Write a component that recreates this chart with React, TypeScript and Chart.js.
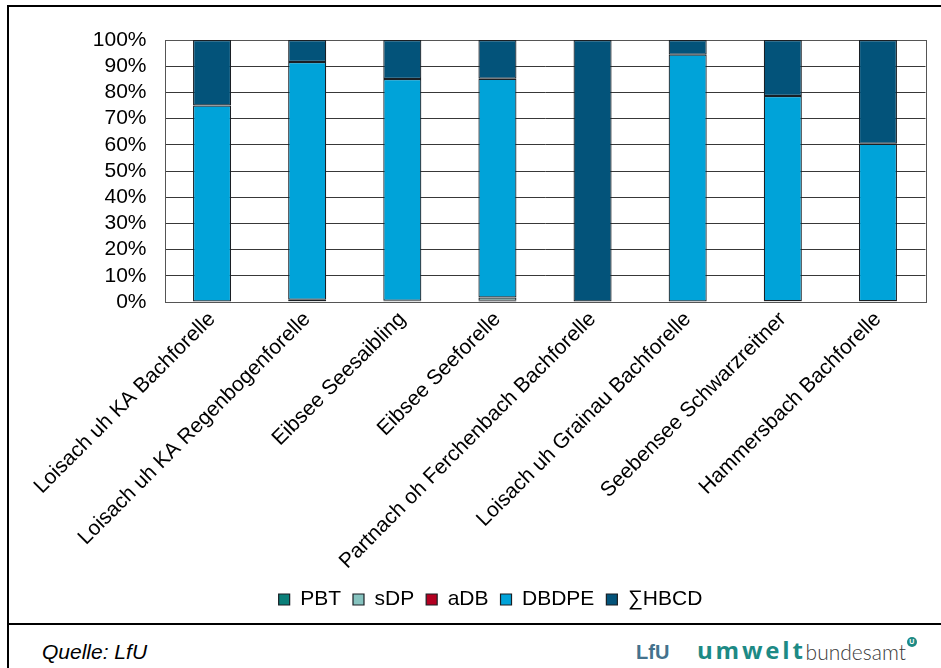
import React, { useEffect, useRef } from "react";
import { Chart, registerables } from "chart.js";

Chart.register(...registerables);

const FONT = '"Liberation Sans", Arial, Helvetica, sans-serif';

const categories = [
  "Loisach uh KA Bachforelle",
  "Loisach uh KA Regenbogenforelle",
  "Eibsee Seesaibling",
  "Eibsee Seeforelle",
  "Partnach oh Ferchenbach Bachforelle",
  "Loisach uh Grainau Bachforelle",
  "Seebensee Schwarzreitner",
  "Hammersbach Bachforelle",
];

const seriesNames = ["PBT", "sDP", "aDB", "DBDPE", "∑HBCD"];
const pbt = [0, 0.3, 0.2, 0.5, 0, 0, 0.2, 0.2];
const sdp = [0, 0, 0.1, 1.2, 0, 0, 0.1, 0.1];
const adb = [0, 0.6, 0.2, 0, 0, 0, 0, 0];
const dbdpe = [75, 90.7, 84.6, 83.5, 0, 94.4, 78.3, 60.1];
const hbcd = [25, 8.4, 14.9, 14.8, 100, 5.6, 21.4, 39.6];
const seriesColors = ["#0a7f79", "#86c3bf", "#b30021", "#00a3d9", "#03537a"];

const yTickValues = [0, 10, 20, 30, 40, 50, 60, 70, 80, 90, 100];

const plotFrame = {
  id: "plotFrame",
  beforeDatasetsDraw(chart: any) {
    const { ctx, chartArea } = chart;
    ctx.save();
    ctx.strokeStyle = "#555";
    ctx.lineWidth = 1;
    ctx.strokeRect(
      Math.round(chartArea.left) + 0.5,
      Math.round(chartArea.top) + 0.5,
      Math.round(chartArea.right - chartArea.left),
      Math.round(chartArea.bottom - chartArea.top)
    );
    ctx.restore();
  },
};

export default function App() {
  const ref = useRef<HTMLCanvasElement>(null);

  useEffect(() => {
    const all = [pbt, sdp, adb, dbdpe, hbcd];
    const chart = new Chart(ref.current!, {
      type: "bar",
      data: {
        labels: categories,
        datasets: all.map((vals, i) => ({
          label: seriesNames[i],
          data: vals.map((v) => (v ? v : null)),
          backgroundColor: seriesColors[i],
          borderColor: "#1a1f24",
          borderWidth: 1.2,
          borderSkipped: false,
          categoryPercentage: 1,
          barPercentage: 0.4,
        })),
      },
      options: {
        animation: false,
        responsive: false,
        devicePixelRatio: 1,
        layout: { padding: { left: 46.5, right: 15.5, top: 33, bottom: 3 } },
        plugins: {
          legend: {
            position: "bottom",
            labels: {
              boxWidth: 11,
              boxHeight: 11,
              padding: 12,
              color: "#000",
              font: { size: 21, family: FONT },
            },
          },
          tooltip: { enabled: false },
        },
        scales: {
          x: {
            stacked: true,
            grid: { display: false, drawTicks: false },
            border: { display: false },
            ticks: {
              autoSkip: false,
              maxRotation: 45,
              minRotation: 45,
              padding: 5,
              color: "#000",
              font: { size: 21, family: FONT },
            },
            afterFit: (s: any) => {
              s.height = 275;
            },
          },
          y: {
            stacked: true,
            min: 0,
            max: 100,
            afterBuildTicks: (s: any) => {
              s.ticks = yTickValues.map((v) => ({ value: v }));
            },
            ticks: {
              autoSkip: false,
              padding: 18,
              color: "#000",
              font: { size: 21, family: FONT },
              callback: (v: any) => v + "%",
            },
            grid: { color: "#383838", lineWidth: 1, drawTicks: false },
            border: { display: false },
            afterFit: (s: any) => {
              s.width = 109;
            },
          },
        },
      },
      plugins: [plotFrame],
    });
    return () => chart.destroy();
  }, []);

  return (
    <div
      style={{
        position: "fixed",
        left: 0,
        top: 0,
        width: 941,
        height: 668,
        overflow: "hidden",
        background: "#fff",
        fontFamily: FONT,
      }}
    >
      <div
        style={{
          position: "absolute",
          left: 7,
          top: 5,
          width: 960,
          height: 620,
          boxSizing: "border-box",
          border: "2px solid #000",
        }}
      />
      <div
        style={{
          position: "absolute",
          left: 7,
          top: 625,
          width: 2,
          height: 43,
          background: "#000",
        }}
      />
      <canvas
        ref={ref}
        width={932}
        height={616}
        style={{ position: "absolute", left: 9, top: 7, width: 932, height: 616 }}
      />
      <div
        style={{
          position: "absolute",
          left: 42,
          top: 640,
          fontSize: 21,
          lineHeight: "24px",
          fontStyle: "italic",
          color: "#000",
          whiteSpace: "nowrap",
        }}
      >
        Quelle: LfU
      </div>
      <div
        style={{
          position: "absolute",
          left: 636,
          top: 638,
          fontSize: 20,
          lineHeight: "28px",
          fontWeight: 700,
          color: "#44728d",
          whiteSpace: "nowrap",
        }}
      >
        LfU
      </div>
      <div
        style={{
          position: "absolute",
          left: 697,
          top: 636,
          fontSize: 24,
          lineHeight: "28px",
          whiteSpace: "nowrap",
          display: "flex",
          alignItems: "flex-start",
        }}
      >
        <span style={{ fontFamily: '"Open Sans", sans-serif', fontWeight: 700, color: "#1d8a85", letterSpacing: 2.8 }}>
          umwelt
        </span>
        <span style={{ fontFamily: "Lato, sans-serif", fontSize: 21, fontWeight: 300, color: "#3a3a3a", marginTop: 2 }}>
          bundesamt
        </span>
        <span
          style={{
            display: "inline-block",
            width: 10,
            height: 10,
            borderRadius: "50%",
            background: "#1d8a85",
            color: "#fff",
            fontSize: 7,
            lineHeight: "10px",
            textAlign: "center",
            fontWeight: 700,
            marginTop: 1,
            marginLeft: 1,
          }}
        >
          U
        </span>
      </div>
    </div>
  );
}
